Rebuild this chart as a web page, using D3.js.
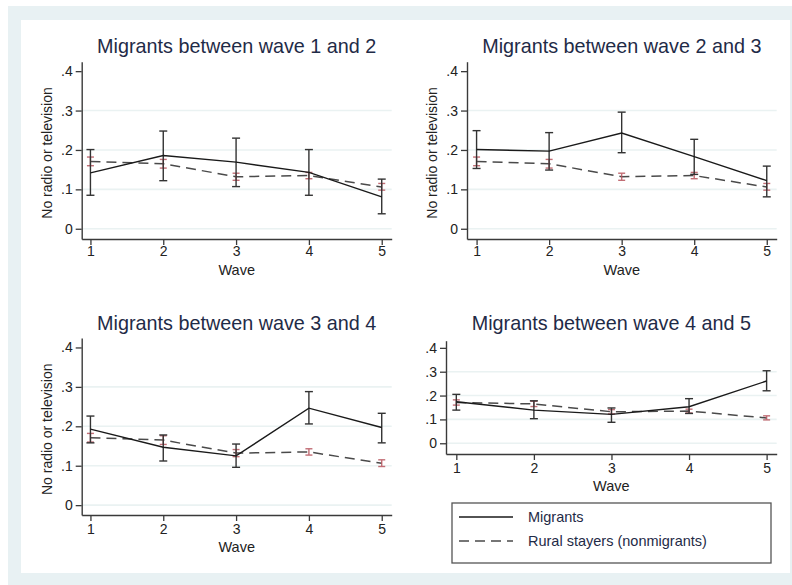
<!DOCTYPE html>
<html>
<head>
<meta charset="utf-8">
<script src="https://cdn.jsdelivr.net/npm/d3@7"></script>
<style>
  html, body { margin: 0; padding: 0; background: #ffffff; }
  svg { display: block; font-family: "Liberation Sans", Arial, Helvetica, sans-serif; }
</style>
</head>
<body>
<svg id="chart" width="792" height="585"></svg>
<script>
// Share of households with no radio or television, by survey wave
const waves = [1, 2, 3, 4, 5];
const yTicks = [0, 0.1, 0.2, 0.3, 0.4];
const yTickLabels = ["0", ".1", ".2", ".3", ".4"];
const panelTitles = [
  "Migrants between wave 1 and 2",
  "Migrants between wave 2 and 3",
  "Migrants between wave 3 and 4",
  "Migrants between wave 4 and 5"
];
const legendLabels = ["Migrants", "Rural stayers (nonmigrants)"];

// Migrants: mean and 95% confidence bounds per wave
const mig12Mean = [0.142, 0.186, 0.169, 0.143, 0.081];
const mig12Lo   = [0.085, 0.122, 0.107, 0.085, 0.038];
const mig12Hi   = [0.201, 0.248, 0.230, 0.201, 0.126];

const mig23Mean = [0.201, 0.197, 0.243, 0.183, 0.122];
const mig23Lo   = [0.153, 0.149, 0.193, 0.138, 0.081];
const mig23Hi   = [0.249, 0.244, 0.296, 0.227, 0.159];

const mig34Mean = [0.193, 0.147, 0.125, 0.246, 0.197];
const mig34Lo   = [0.158, 0.112, 0.096, 0.206, 0.158];
const mig34Hi   = [0.226, 0.178, 0.155, 0.288, 0.233];

const mig45Mean = [0.174, 0.139, 0.121, 0.153, 0.261];
const mig45Lo   = [0.139, 0.103, 0.088, 0.125, 0.220];
const mig45Hi   = [0.205, 0.178, 0.148, 0.187, 0.304];

// Rural stayers (nonmigrants): mean and 95% confidence bounds per wave
const stayMean = [0.171, 0.165, 0.132, 0.135, 0.106];
const stayLo   = [0.160, 0.154, 0.123, 0.127, 0.098];
const stayHi   = [0.182, 0.176, 0.141, 0.143, 0.115];

const migSeries = [
  { mean: mig12Mean, lo: mig12Lo, hi: mig12Hi },
  { mean: mig23Mean, lo: mig23Lo, hi: mig23Hi },
  { mean: mig34Mean, lo: mig34Lo, hi: mig34Hi },
  { mean: mig45Mean, lo: mig45Lo, hi: mig45Hi }
];

// Panel geometry (plot region in pixels, axis domains)
const panels = [
  { x0: 81.7, x1: 391.7, y0: 239, y1: 61.7, xd: [0.88, 5.137], yd: [-0.026, 0.424], yTitle: true,
    titleY: 53, tickY: 256, waveY: 275 },
  { x0: 467, x1: 776.7, y0: 239, y1: 61.7, xd: [0.868, 5.137], yd: [-0.026, 0.424], yTitle: true,
    titleY: 53, tickY: 256, waveY: 275 },
  { x0: 81.7, x1: 391.7, y0: 515, y1: 338, xd: [0.88, 5.137], yd: [-0.025, 0.424], yTitle: true,
    titleY: 330, tickY: 534, waveY: 552 },
  { x0: 446, x1: 776.7, y0: 454, y1: 340.7, xd: [0.867, 5.13], yd: [-0.045, 0.43], yTitle: false,
    titleY: 330, tickY: 473, waveY: 491 }
];

const svg = d3.select("#chart");

// Outer frame
svg.append("rect").attr("x", 8).attr("y", 6).attr("width", 784).attr("height", 579).attr("fill", "#e8f1f3");
svg.append("rect").attr("x", 21).attr("y", 20).attr("width", 769).attr("height", 553).attr("fill", "#ffffff");

const axisColor = "#3a3a3a";
const textColor = "#222222";
const titleColor = "#1f2b47";
const stayColor = "#b8555e";

panels.forEach((p, i) => {
  const g = svg.append("g");
  const x = d3.scaleLinear().domain(p.xd).range([p.x0, p.x1]);
  const y = d3.scaleLinear().domain(p.yd).range([p.y0, p.y1]);

  // light grid lines
  g.append("g").selectAll("line")
    .data(yTicks.slice(0, 4))
    .join("line")
    .attr("x1", p.x0 + 1).attr("x2", p.x1)
    .attr("y1", d => y(d)).attr("y2", d => y(d))
    .attr("stroke", "#eaf2f2").attr("stroke-width", 1.6);

  // axes
  const yAxis = d3.axisLeft(y).tickValues(yTicks)
    .tickFormat((d, k) => yTickLabels[k]).tickSize(6).tickSizeOuter(0).tickPadding(3);
  const xAxis = d3.axisBottom(x).tickValues(waves)
    .tickFormat(d3.format("d")).tickSize(6).tickSizeOuter(0).tickPadding(3);

  const ya = g.append("g").attr("transform", `translate(${p.x0},0)`).call(yAxis);
  const xa = g.append("g").attr("transform", `translate(0,${p.y0})`).call(xAxis);
  [ya, xa].forEach(a => {
    a.select(".domain").attr("stroke", axisColor).attr("stroke-width", 1.4);
    a.selectAll(".tick line").attr("stroke", axisColor).attr("stroke-width", 1.3);
    a.selectAll(".tick text").attr("fill", textColor).attr("font-size", 14)
      .attr("font-family", "Liberation Sans, Arial, sans-serif");
  });
  xa.selectAll(".tick text").attr("y", null).attr("dy", null)
    .attr("transform", `translate(0,${p.tickY - p.y0})`);

  // titles
  g.append("text")
    .attr("x", (p.x0 + p.x1) / 2).attr("y", p.titleY)
    .attr("text-anchor", "middle").attr("font-size", 19.8).attr("fill", titleColor)
    .text(panelTitles[i]);

  g.append("text")
    .attr("x", (p.x0 + p.x1) / 2).attr("y", p.waveY)
    .attr("text-anchor", "middle").attr("font-size", 14.5).attr("fill", textColor)
    .text("Wave");

  if (p.yTitle) {
    const cy = (y(0.4) + y(0)) / 2 + 3;
    g.append("text")
      .attr("transform", `translate(${p.x0 - 30},${cy}) rotate(-90)`)
      .attr("text-anchor", "middle").attr("font-size", 14).attr("fill", textColor)
      .text("No radio or television");
  }

  const line = d3.line().x((d, k) => x(waves[k])).y(d => y(d));

  // rural stayers: dashed line + CI
  g.append("path").datum(stayMean).attr("d", line)
    .attr("fill", "none").attr("stroke", "#4a4a4a").attr("stroke-width", 1.5)
    .attr("stroke-dasharray", "10,6");

  const sci = g.append("g").selectAll("g").data(waves).join("g")
    .attr("stroke", stayColor).attr("stroke-width", 1.4).attr("opacity", 0.85);
  sci.append("line").attr("x1", d => x(d)).attr("x2", d => x(d))
    .attr("y1", (d, k) => y(stayLo[k])).attr("y2", (d, k) => y(stayHi[k]));
  sci.append("line").attr("x1", d => x(d) - 3.5).attr("x2", d => x(d) + 3.5)
    .attr("y1", (d, k) => y(stayLo[k])).attr("y2", (d, k) => y(stayLo[k]));
  sci.append("line").attr("x1", d => x(d) - 3.5).attr("x2", d => x(d) + 3.5)
    .attr("y1", (d, k) => y(stayHi[k])).attr("y2", (d, k) => y(stayHi[k]));

  // migrants: solid line + CI
  const s = migSeries[i];
  const mci = g.append("g").selectAll("g").data(waves).join("g")
    .attr("stroke", "#333333").attr("stroke-width", 1.4);
  mci.append("line").attr("x1", d => x(d)).attr("x2", d => x(d))
    .attr("y1", (d, k) => y(s.lo[k])).attr("y2", (d, k) => y(s.hi[k]));
  mci.append("line").attr("x1", d => x(d) - 4).attr("x2", d => x(d) + 4)
    .attr("y1", (d, k) => y(s.lo[k])).attr("y2", (d, k) => y(s.lo[k]));
  mci.append("line").attr("x1", d => x(d) - 4).attr("x2", d => x(d) + 4)
    .attr("y1", (d, k) => y(s.hi[k])).attr("y2", (d, k) => y(s.hi[k]));

  g.append("path").datum(s.mean).attr("d", line)
    .attr("fill", "none").attr("stroke", "#1a1a1a").attr("stroke-width", 1.4);
});

// Legend
const lg = svg.append("g");
lg.append("rect").attr("x", 452).attr("y", 503).attr("width", 319).attr("height", 60)
  .attr("fill", "#ffffff").attr("stroke", "#555555").attr("stroke-width", 1.3);
const legendStyles = [
  { stroke: "#1a1a1a", dash: null },
  { stroke: "#4a4a4a", dash: "10,6" }
];
legendLabels.forEach((lab, k) => {
  const ly = 517 + k * 24;
  lg.append("line").attr("x1", 459).attr("x2", 513).attr("y1", ly).attr("y2", ly)
    .attr("stroke", legendStyles[k].stroke).attr("stroke-width", 1.5)
    .attr("stroke-dasharray", legendStyles[k].dash);
  lg.append("text").attr("x", 528).attr("y", ly + 5)
    .attr("font-size", 14.5).attr("fill", "#1f2b47").text(lab);
});
</script>
</body>
</html>
